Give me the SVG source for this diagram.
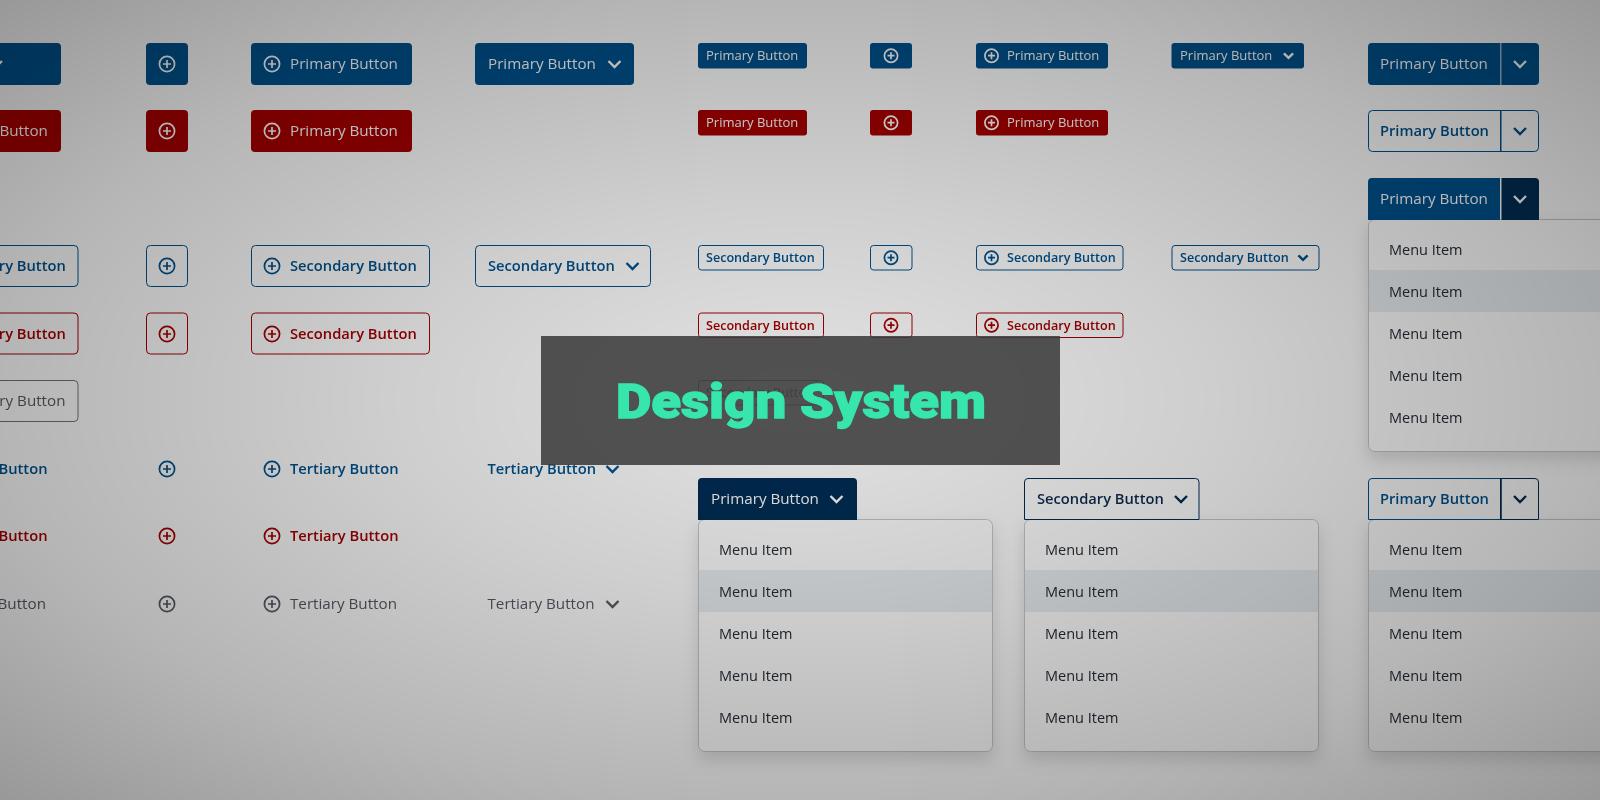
<svg xmlns="http://www.w3.org/2000/svg" width="1600" height="800" viewBox="0 0 1600 800">
<style>
text{font-family:"Open Sans","Noto Sans",sans-serif;white-space:pre}
.l{font-size:15.2px}
.s{font-size:13px}
.l.sb{font-size:14.7px;font-weight:600}
.s.sb{font-size:12.6px;font-weight:600}
.m{font-size:14.5px;fill:#252d36}
.w{fill:#fff}.b{fill:#00528f}.r{fill:#a80000}.g{fill:#565c65}.d{fill:#0d2c50}
.pb{fill:#00528f}.pr{fill:#a80000}
.ob{fill:#fff;stroke:#00528f;stroke-width:1}.or{fill:#fff;stroke:#a80000;stroke-width:1}.og{fill:#fff;stroke:#71767a;stroke-width:1}
.ic{fill:none;stroke:currentColor;stroke-width:1.7}
.ch{fill:none;stroke:currentColor;stroke-width:2.4}
.cw{color:#fff}.cb{color:#00528f}.cr{color:#a80000}.cg{color:#565c65}.cd{color:#002d57}
.menu{fill:#fff;stroke:#c8c8c8;stroke-width:1}
.hv{fill:#eaeff3}
</style>
<defs>
<g id="i"><circle r="7.6" class="ic"/><path d="M-4 0H4M0-4V4" class="ic"/></g>
<g id="is"><circle r="6.6" class="ic"/><path d="M-3.500 0H3.500M0-3.500V3.500" class="ic"/></g>
<path id="c" d="M-6-3L0 3L6-3" class="ch"/>
<path id="cs" d="M-4.600-2.400L0 2.200L4.600-2.400" class="ch"/>
<radialGradient id="vig" cx=".5" cy=".5" r=".72">
<stop offset="0" stop-color="#000" stop-opacity=".11"/>
<stop offset=".35" stop-color="#000" stop-opacity=".19"/>
<stop offset=".7" stop-color="#000" stop-opacity=".29"/>
<stop offset="1" stop-color="#000" stop-opacity=".41"/>
</radialGradient>
<filter id="sh" x="-20%" y="-20%" width="140%" height="140%"><feDropShadow dx="0" dy="8" stdDeviation="8" flood-color="#000" flood-opacity=".13"/></filter>
<filter id="soft" x="0" y="0" width="100%" height="100%" filterUnits="userSpaceOnUse"><feGaussianBlur stdDeviation=".35"/></filter>
</defs>
<rect id="page" width="1600" height="800" fill="#fff"/>
<g id="connectors"/>
<g id="ui" filter="url(#soft)">
<g id="col-a">
<rect class="pb" x="-100" y="43" width="161" height="42" rx="4"/><use href="#c" x="-4" y="64" class="cw"/>
<rect class="pr" x="-100" y="110" width="161" height="42" rx="4"/><text class="l w" x="-60" y="136.200">Primary Button</text>
<rect class="ob" x="-100" y="245.500" width="178" height="41" rx="4"/><text class="l b sb" x="-61" y="271.200">Secondary Button</text>
<rect class="or" x="-100" y="313" width="178" height="41" rx="4"/><text class="l r sb" x="-61" y="339.200">Secondary Button</text>
<rect class="og" x="-100" y="380.500" width="178" height="41" rx="4"/><text class="l g" x="-61" y="406.200">Secondary Button</text>
<text class="l b sb" x="-61" y="474">Tertiary Button</text>
<text class="l r sb" x="-61" y="541">Tertiary Button</text>
<text class="l g" x="-61" y="609">Tertiary Button</text>
</g>

<g id="col-b">
<g id="b-pb"><rect class="pb" x="146" y="43" width="42" height="42" rx="4"/><use href="#i" x="167" y="64" class="cw"/></g>
<g id="b-pr"><rect class="pr" x="146" y="110" width="42" height="42" rx="4"/><use href="#i" x="167" y="131" class="cw"/></g>
<g id="b-sb"><rect class="ob" x="146.500" y="245.500" width="41" height="41" rx="4"/><use href="#i" x="167" y="266" class="cb"/></g>
<g id="b-sr"><rect class="or" x="146.500" y="313" width="41" height="41" rx="4"/><use href="#i" x="167" y="334" class="cr"/></g>
<use id="b-tb" href="#i" x="167" y="469" class="cb"/>
<use id="b-tr" href="#i" x="167" y="536" class="cr"/>
<use id="b-tg" href="#i" x="167" y="604" class="cg"/>
</g>

<g id="col-c">
<g id="c-pb"><rect class="pb" x="251" y="43" width="161" height="42" rx="4"/><use href="#i" x="272" y="64" class="cw"/><text class="l w" x="290" y="69.200">Primary Button</text></g>
<g id="c-pr"><rect class="pr" x="251" y="110" width="161" height="42" rx="4"/><use href="#i" x="272" y="131" class="cw"/><text class="l w" x="290" y="136.200">Primary Button</text></g>
<g id="c-sb"><rect class="ob" x="251.500" y="245.500" width="178" height="41" rx="4"/><use href="#i" x="272" y="266" class="cb"/><text class="l b sb" x="290" y="271.200">Secondary Button</text></g>
<g id="c-sr"><rect class="or" x="251.500" y="313" width="178" height="41" rx="4"/><use href="#i" x="272" y="334" class="cr"/><text class="l r sb" x="290" y="339.200">Secondary Button</text></g>
<g id="c-tb"><use href="#i" x="272" y="469" class="cb"/><text class="l b sb" x="290" y="474">Tertiary Button</text></g>
<g id="c-tr"><use href="#i" x="272" y="536" class="cr"/><text class="l r sb" x="290" y="541">Tertiary Button</text></g>
<g id="c-tg"><use href="#i" x="272" y="604" class="cg"/><text class="l g" x="290" y="609">Tertiary Button</text></g>
</g>

<g id="col-d">
<g id="d-pb"><rect class="pb" x="475" y="43" width="159" height="42" rx="4"/><text class="l w" x="488" y="69.200">Primary Button</text><use href="#c" x="614.500" y="64" class="cw"/></g>
<g id="d-sb"><rect class="ob" x="475.500" y="245.500" width="175" height="41" rx="4"/><text class="l b sb" x="488" y="271.200">Secondary Button</text><use href="#c" x="632.500" y="266" class="cb"/></g>
<g id="d-tb"><text class="l b sb" x="487.500" y="474">Tertiary Button</text><use href="#c" x="612.500" y="469" class="cb"/></g>
<g id="d-tg"><text class="l g" x="487.500" y="609">Tertiary Button</text><use href="#c" x="612.500" y="604" class="cg"/></g>
</g>

<g id="col-e">
<g id="e-pb"><rect class="pb" x="698" y="43" width="109" height="25.500" rx="3"/><text class="s w" x="706" y="60.300">Primary Button</text></g>
<g id="e-pr"><rect class="pr" x="698" y="110" width="109" height="25.500" rx="3"/><text class="s w" x="706" y="127.300">Primary Button</text></g>
<g id="e-sb"><rect class="ob" x="698.500" y="245.500" width="125" height="24.500" rx="3"/><text class="s b sb" x="706" y="262.300">Secondary Button</text></g>
<g id="e-sr"><rect class="or" x="698.500" y="313" width="125" height="24.500" rx="3"/><text class="s r sb" x="706" y="330.300">Secondary Button</text></g>
<g id="e-sg"><rect class="og" x="698.500" y="380.500" width="125" height="24.500" rx="3"/><text class="s g" x="706" y="397.300">Secondary Button</text></g>
</g>

<g id="col-f">
<g id="f-pb"><rect class="pb" x="870" y="43" width="42" height="25.500" rx="3"/><use href="#is" x="891" y="55.700" class="cw"/></g>
<g id="f-pr"><rect class="pr" x="870" y="110" width="42" height="25.500" rx="3"/><use href="#is" x="891" y="122.700" class="cw"/></g>
<g id="f-sb"><rect class="ob" x="870.500" y="245.500" width="41.500" height="24.500" rx="3"/><use href="#is" x="891" y="257.700" class="cb"/></g>
<g id="f-sr"><rect class="or" x="870.500" y="313" width="41.500" height="24.500" rx="3"/><use href="#is" x="891" y="325.200" class="cr"/></g>
</g>

<g id="col-g">
<g id="g-pb"><rect class="pb" x="976" y="43" width="132" height="25.500" rx="3"/><use href="#is" x="991.500" y="55.700" class="cw"/><text class="s w" x="1007" y="60.300">Primary Button</text></g>
<g id="g-pr"><rect class="pr" x="976" y="110" width="132" height="25.500" rx="3"/><use href="#is" x="991.500" y="122.700" class="cw"/><text class="s w" x="1007" y="127.300">Primary Button</text></g>
<g id="g-sb"><rect class="ob" x="976.500" y="245.500" width="146.500" height="24.500" rx="3"/><use href="#is" x="991.500" y="257.700" class="cb"/><text class="s b sb" x="1007" y="262.300">Secondary Button</text></g>
<g id="g-sr"><rect class="or" x="976.500" y="313" width="146.500" height="24.500" rx="3"/><use href="#is" x="991.500" y="325.200" class="cr"/><text class="s r sb" x="1007" y="330.300">Secondary Button</text></g>
</g>

<g id="col-h">
<g id="h-pb"><rect class="pb" x="1171.500" y="43" width="132.500" height="25.500" rx="3"/><text class="s w" x="1180" y="60.300">Primary Button</text><use href="#cs" x="1288.500" y="55.700" class="cw"/></g>
<g id="h-sb"><rect class="ob" x="1172" y="245.500" width="147" height="24.500" rx="3"/><text class="s b sb" x="1180" y="262.300">Secondary Button</text><use href="#cs" x="1303" y="257.700" class="cb"/></g>
</g>

<g id="dropdown-primary">
<rect class="menu" filter="url(#sh)" x="698.500" y="519.500" width="294" height="232" rx="6"/>
<rect class="hv" x="699" y="570" width="293" height="42"/>
<path d="M698 520V482a4 4 0 0 1 4-4H853a4 4 0 0 1 4 4V520Z" fill="#002d57"/>
<text class="l w" x="711" y="504.200">Primary Button</text><use href="#c" x="836.500" y="499" class="cw"/>
<text class="m" x="719" y="555">Menu Item</text><text class="m" x="719" y="597">Menu Item</text><text class="m" x="719" y="639">Menu Item</text><text class="m" x="719" y="681">Menu Item</text><text class="m" x="719" y="723">Menu Item</text>
</g>

<g id="dropdown-secondary">
<rect class="menu" filter="url(#sh)" x="1024.500" y="519.500" width="294" height="232" rx="6"/>
<rect class="hv" x="1025" y="570" width="293" height="42"/>
<path d="M1024.500 519.500V482a3.500 3.500 0 0 1 3.500-3.500H1195.500a3.500 3.500 0 0 1 3.500 3.500V519.500Z" fill="#fff" stroke="#002d57"/>
<text class="l d sb" x="1037" y="504.200">Secondary Button</text><use href="#c" x="1181" y="499" class="cd"/>
<text class="m" x="1045" y="555">Menu Item</text><text class="m" x="1045" y="597">Menu Item</text><text class="m" x="1045" y="639">Menu Item</text><text class="m" x="1045" y="681">Menu Item</text><text class="m" x="1045" y="723">Menu Item</text>
</g>

<g id="col-split">
<g id="sp1"><rect class="pb" x="1368" y="43" width="171" height="42" rx="4"/><rect x="1500" y="43" width="1.500" height="42" fill="#fff" opacity=".6"/><text class="l w" x="1380" y="69.200">Primary Button</text><use href="#c" x="1520" y="64" class="cw"/></g>
<g id="sp2"><rect class="ob" x="1368.500" y="110.500" width="170" height="41" rx="4"/><rect x="1500" y="110" width="1.500" height="42" class="pb"/><text class="l b sb" x="1380" y="136.200">Primary Button</text><use href="#c" x="1520" y="131" class="cb"/></g>
<g id="sp3">
<rect class="menu" filter="url(#sh)" x="1368.500" y="219.500" width="294" height="232" rx="6"/>
<rect class="hv" x="1369" y="270" width="293" height="42"/>
<path d="M1368 220V182a4 4 0 0 1 4-4H1500V220Z" class="pb"/><path d="M1501.500 220V178H1535a4 4 0 0 1 4 4V220Z" fill="#002d57"/>
<text class="l w" x="1380" y="204.200">Primary Button</text><use href="#c" x="1520" y="199" class="cw"/>
<text class="m" x="1389" y="255">Menu Item</text><text class="m" x="1389" y="297">Menu Item</text><text class="m" x="1389" y="339">Menu Item</text><text class="m" x="1389" y="381">Menu Item</text><text class="m" x="1389" y="423">Menu Item</text>
</g>
<g id="sp4">
<rect class="menu" filter="url(#sh)" x="1368.500" y="519.500" width="294" height="232" rx="6"/>
<rect class="hv" x="1369" y="570" width="293" height="42"/>
<path d="M1368.500 519.500V482a3.500 3.500 0 0 1 3.500-3.500H1501V519.500Z" fill="#fff" stroke="#00528f"/>
<path d="M1501 519.500V478.500H1535a3.500 3.500 0 0 1 3.500 3.500V519.500Z" fill="#fff" stroke="#002d57"/>
<rect x="1500" y="478" width="1.500" height="42" fill="#002d57"/>
<text class="l b sb" x="1380" y="504.200">Primary Button</text><use href="#c" x="1520" y="499" class="cd"/>
<text class="m" x="1389" y="555">Menu Item</text><text class="m" x="1389" y="597">Menu Item</text><text class="m" x="1389" y="639">Menu Item</text><text class="m" x="1389" y="681">Menu Item</text><text class="m" x="1389" y="723">Menu Item</text>
</g>
</g>
</g>

<rect id="vignette" width="1600" height="800" fill="url(#vig)"/>
<g id="title">
<rect x="541" y="336" width="519" height="129" fill="#3c3c3c" fill-opacity=".88"/>
<text x="616" y="417.500" textLength="370" lengthAdjust="spacingAndGlyphs" style="font-family:Roboto,'Liberation Sans',sans-serif;font-weight:900;font-size:49px" fill="#37e6ad" stroke="#37e6ad" stroke-width="1.300">Design System</text>
</g>
</svg>
